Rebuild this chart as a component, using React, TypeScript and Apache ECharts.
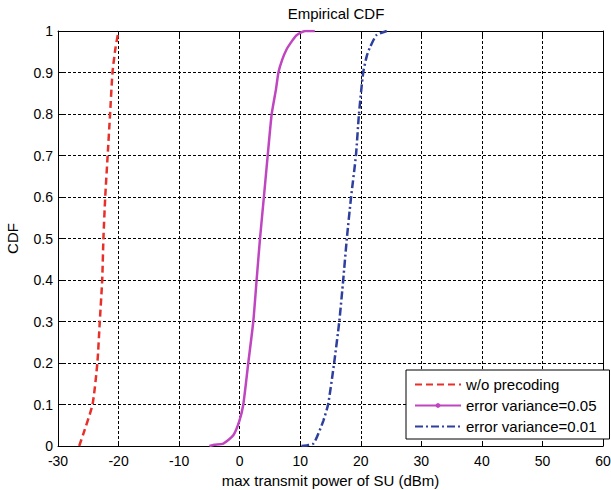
import React, { useEffect, useRef } from "react";
import * as echarts from "echarts";

const xTicks = [-30, -20, -10, 0, 10, 20, 30, 40, 50, 60];
const yTicks = [0, 0.1, 0.2, 0.3, 0.4, 0.5, 0.6, 0.7, 0.8, 0.9, 1];

const seriesNames = ["w/o precoding", "error variance=0.05", "error variance=0.01"];

const noPrecodingX = [-26.5, -25.8, -24.3, -23.5, -23.1, -22.7, -22.5, -22.2, -21.8, -21.4, -21.0, -20.5, -20.0];
const noPrecodingY = [0, 0.03, 0.1, 0.2, 0.3, 0.4, 0.5, 0.6, 0.7, 0.8, 0.9, 0.96, 1.0];

const var005X = [-5.0, -4.2, -2.7, -1.05, -0.06, 0.6, 1.42, 2.25, 2.8, 3.36, 4.0, 4.63, 5.29, 6.0, 6.4, 7.0, 7.76, 8.6, 9.4, 10.8, 12.4];
const var005Y = [0, 0.003, 0.006, 0.026, 0.06, 0.1, 0.2, 0.3, 0.4, 0.5, 0.6, 0.7, 0.8, 0.86, 0.9, 0.93, 0.956, 0.975, 0.99, 1.0, 1.0];

const var001X = [10.2, 11.2, 12.2, 13.0, 13.8, 14.6, 15.6, 16.45, 17.1, 17.7, 18.4, 19.2, 19.7, 20.4, 21.0, 21.5, 22.6, 24.3];
const var001Y = [0, 0.002, 0.006, 0.03, 0.06, 0.1, 0.2, 0.3, 0.4, 0.5, 0.6, 0.7, 0.8, 0.9, 0.94, 0.96, 0.99, 1.0];

const colors = ["#e8302a", "#c045c0", "#2e3f9e"];

const zip = (xs: number[], ys: number[]) => xs.map((x, i) => [x, ys[i]]);

const FONT = "Liberation Sans, Arial, sans-serif";

export default function App() {
  const ref = useRef<HTMLDivElement>(null);
  useEffect(() => {
    if (!ref.current) return;
    const chart = echarts.init(ref.current, undefined, { renderer: "svg" });
    const gridLine = { show: true, lineStyle: { color: "#000", type: [3, 2] as any, width: 1 } };
    const axisLine = { show: true, onZero: false, lineStyle: { color: "#000", width: 1 } };
    const tick = { show: true, inside: true, length: 5, lineStyle: { color: "#000" } };
    chart.setOption({
      animation: false,
      backgroundColor: "#fff",
      textStyle: { fontFamily: FONT },
      title: {
        text: "Empirical CDF",
        left: 331,
        top: 1,
        textAlign: "center",
        textStyle: { fontSize: 15, fontWeight: "normal", color: "#000", fontFamily: FONT },
      },
      grid: { left: 58, right: 8, top: 31, bottom: 44, containLabel: false, outerBoundsMode: "none" },
      xAxis: [
        {
          type: "value",
          min: -30,
          max: 60,
          interval: 10,
          name: "max transmit power of SU (dBm)",
          nameLocation: "middle",
          nameGap: 25,
          nameTextStyle: { fontSize: 15, color: "#000", fontFamily: FONT },
          axisLine,
          axisTick: tick,
          splitLine: gridLine,
          axisLabel: { fontSize: 14, color: "#000", margin: 8, fontFamily: FONT, formatter: (v: number) => String(v) },
          data: xTicks,
        },
        {
          type: "value",
          position: "top",
          min: -30,
          max: 60,
          interval: 10,
          axisLine,
          axisTick: tick,
          splitLine: { show: false },
          axisLabel: { show: false },
        },
      ],
      yAxis: [
        {
          type: "value",
          min: 0,
          max: 1,
          interval: 0.1,
          name: "CDF",
          nameLocation: "middle",
          nameGap: 38,
          nameRotate: 90,
          nameTextStyle: { fontSize: 15, color: "#000", fontFamily: FONT },
          axisLine,
          axisTick: tick,
          splitLine: gridLine,
          axisLabel: {
            fontSize: 14,
            color: "#000",
            margin: 5,
            fontFamily: FONT,
            formatter: (v: number) => {
              const r = Math.round(v * 10) / 10;
              return yTicks.includes(r) ? String(r) : "";
            },
          },
        },
        {
          type: "value",
          position: "right",
          min: 0,
          max: 1,
          interval: 0.1,
          axisLine,
          axisTick: tick,
          splitLine: { show: false },
          axisLabel: { show: false },
        },
      ],
      legend: {
        orient: "vertical",
        left: 406,
        top: 370,
        padding: [7, 13, 5, 8],
        itemGap: 6,
        itemWidth: 46,
        itemHeight: 6,
        backgroundColor: "#fff",
        borderColor: "#000",
        borderWidth: 1,
        borderRadius: 0,
        textStyle: { fontSize: 15, color: "#000", fontFamily: FONT },
        data: [
          { name: seriesNames[0], itemStyle: { opacity: 0 } },
          { name: seriesNames[1] },
          { name: seriesNames[2], itemStyle: { opacity: 0 } },
        ],
      },
      series: [
        {
          name: seriesNames[0],
          type: "line",
          data: zip(noPrecodingX, noPrecodingY),
          symbol: "none",
          smooth: 0.2,
          lineStyle: { color: colors[0], width: 2.5, type: [7, 4] },
          itemStyle: { color: colors[0] },
        },
        {
          name: seriesNames[1],
          type: "line",
          data: zip(var005X, var005Y),
          symbol: "circle",
          symbolSize: 5,
          showSymbol: false,
          smooth: 0.2,
          lineStyle: { color: colors[1], width: 2.5, type: "solid" },
          itemStyle: { color: colors[1] },
        },
        {
          name: seriesNames[2],
          type: "line",
          data: zip(var001X, var001Y),
          symbol: "none",
          smooth: 0.2,
          lineStyle: { color: colors[2], width: 2.5, type: [8, 3, 2, 3] },
          itemStyle: { color: colors[2] },
        },
      ],
    });
    return () => chart.dispose();
  }, []);
  return <div ref={ref} style={{ width: 611, height: 490, position: "absolute", left: 0, top: 0 }} />;
}
